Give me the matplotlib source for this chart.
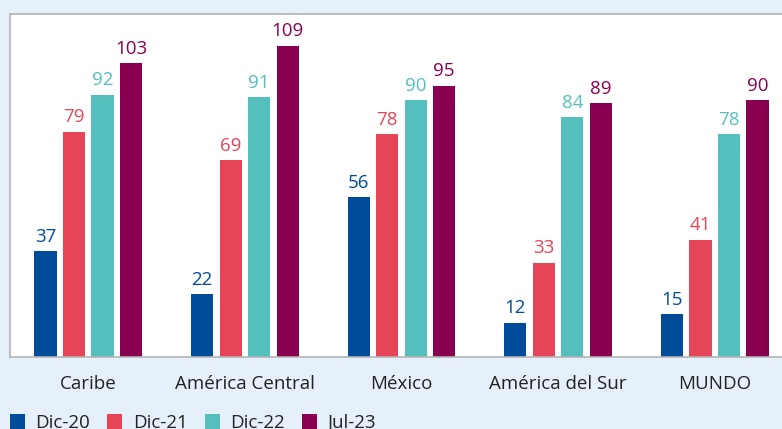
import matplotlib.pyplot as plt
import numpy as np

plt.rcParams["font.family"] = ["Open Sans", "DejaVu Sans"]

regions = ["Caribe", "América Central", "México", "América del Sur", "MUNDO"]
periods = ["Dic-20", "Dic-21", "Dic-22", "Jul-23"]
dic_20 = [37, 22, 56, 12, 15]
dic_21 = [79, 69, 78, 33, 41]
dic_22 = [92, 91, 90, 84, 78]
jul_23 = [103, 109, 95, 89, 90]

colors = ["#004b9a", "#e64558", "#55bfbd", "#8a0050"]
background = "#e6f0fa"
font_size = 13.5

figure = plt.figure(figsize=(7.82, 4.29), dpi=100, facecolor=background)
axis = figure.add_axes([0.0128, 0.168, 0.9872, 0.8005])
axis.set_facecolor("white")

x_positions = np.arange(len(regions), dtype=np.float64)
step = 0.182
bar_width = 0.142

for index, (label, values) in enumerate(zip(periods, [dic_20, dic_21, dic_22, jul_23])):
    offset = (index - 1.5) * step
    bars = axis.bar(
        x_positions + offset,
        values,
        width=bar_width,
        color=colors[index],
        label=label,
        zorder=2,
    )
    for bar, value in zip(bars, values):
        axis.annotate(
            f"{value}",
            (bar.get_x() + bar.get_width() / 2, bar.get_height()),
            xytext=(0, 4),
            textcoords="offset points",
            ha="center",
            va="bottom",
            fontsize=font_size,
            color=colors[index],
        )

axis.set_xlim(-0.5, 4.43)
axis.set_ylim(0, 120.4)
axis.set_yticks([])
axis.set_xticks(x_positions)
axis.set_xticklabels(regions, fontsize=font_size, color="#222222")
axis.tick_params(axis="x", length=0, pad=13)

for side in ["left", "top", "bottom"]:
    axis.spines[side].set_color("#b4b4b4")
    axis.spines[side].set_linewidth(1.2)
axis.spines["right"].set_visible(False)

figure.legend(
    loc="lower left",
    bbox_to_anchor=(0.0128, -0.007),
    ncol=4,
    frameon=False,
    fontsize=font_size,
    borderpad=0,
    borderaxespad=0,
    handlelength=0.8,
    handleheight=0.8,
    handletextpad=0.55,
    columnspacing=0.92,
    labelcolor="#222222",
)

figure.savefig("out.png", dpi=100, facecolor=background)
plt.close(figure)
